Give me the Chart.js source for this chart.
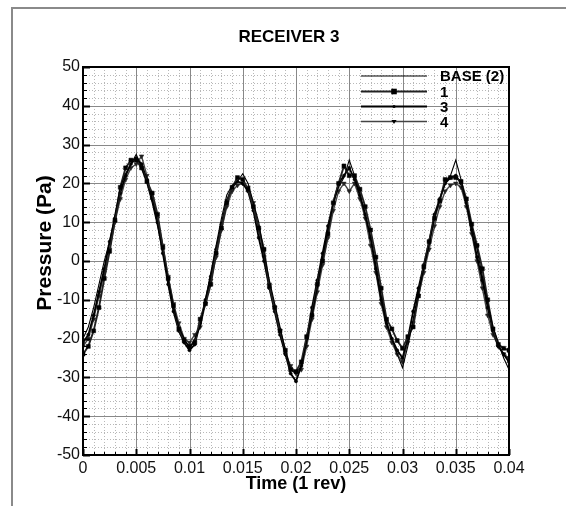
<!DOCTYPE html>
<html>
<head>
<meta charset="utf-8">
<script src="https://cdn.jsdelivr.net/npm/chart.js@4.4.1/dist/chart.umd.min.js"></script>
<style>
  html, body { margin: 0; padding: 0; background: #fff; }
  #wrap { position: relative; width: 566px; height: 506px; }
  #page { position: absolute; left: 11px; top: 7px; right: 0; bottom: 0; border-left: 2px solid #8a8a8a; border-top: 2px solid #8a8a8a; }
  #chart { position: absolute; left: 0; top: 0; }
</style>
</head>
<body>
<div id="wrap">
  <div id="page"></div>
  <canvas id="chart" width="566" height="506"></canvas>
</div>
<script>
// time samples (s), one every half millisecond
const times = [
  0, 0.0005, 0.001, 0.0015, 0.002, 0.0025, 0.003, 0.0035, 0.004, 0.0045,
  0.005, 0.0055, 0.006, 0.0065, 0.007, 0.0075, 0.008, 0.0085, 0.009, 0.0095,
  0.01, 0.0105, 0.011, 0.0115, 0.012, 0.0125, 0.013, 0.0135, 0.014, 0.0145,
  0.015, 0.0155, 0.016, 0.0165, 0.017, 0.0175, 0.018, 0.0185, 0.019, 0.0195,
  0.02, 0.0205, 0.021, 0.0215, 0.022, 0.0225, 0.023, 0.0235, 0.024, 0.0245,
  0.025, 0.0255, 0.026, 0.0265, 0.027, 0.0275, 0.028, 0.0285, 0.029, 0.0295,
  0.03, 0.0305, 0.031, 0.0315, 0.032, 0.0325, 0.033, 0.0335, 0.034, 0.0345,
  0.035, 0.0355, 0.036, 0.0365, 0.037, 0.0375, 0.038, 0.0385, 0.039, 0.0395,
  0.04
];

// pressure (Pa)
const base2 = [
  -20, -17, -12, -6, 0, 5, 12, 19, 22.5, 25,
  27.5, 24, 20, 15, 9, 2, -5, -12, -17, -20,
  -22.5, -20, -17, -10, -3, 4, 11, 17, 19.5, 20.5,
  22.5, 20, 15, 10, 2, -5, -11, -17, -23, -28,
  -29, -27, -21, -14, -7, 1, 8, 15, 19, 21.5,
  26, 22, 17, 12, 6, -1, -9, -16, -20, -24,
  -27.5, -22, -15, -8, -2, 4, 11, 16, 20, 22,
  26, 21, 15, 9, 3, -4, -11, -17, -21, -25,
  -28
];
const run1 = [
  -24, -22, -18, -12, -4.5, 2.5, 10.5, 19, 24, 26,
  26, 24, 20.5, 17.5, 12, 3.5, -4.5, -11.5, -17.5, -20.5,
  -22, -21, -15, -11, -6, 2, 8.5, 15, 19, 21.5,
  21, 18.5, 14, 8.5, 3, -6.5, -12, -18, -23, -28,
  -28.5, -26, -19.5, -14, -6, 0, 7, 15, 20, 24.5,
  22, 22, 18.5, 14, 8, 1, -7, -15, -17.5, -20.5,
  -22.5, -19.5, -17, -9, -1.5, 5, 11, 15.5, 21, 21.5,
  21.5, 20.5, 16, 9.5, 4, -2, -10, -17.5, -21.5, -22.5,
  -23
];
const run3 = [
  -21, -19, -14, -8, -2, 5, 11, 17.5, 22, 25,
  26.5, 25, 21, 16, 10, 2, -6, -13, -18, -21,
  -23, -21.5, -16, -10, -4, 3, 9.5, 15.5, 19, 20.5,
  20, 18, 13, 6, 0, -7, -13, -19, -24, -29,
  -31, -27, -20, -12, -5, 2, 9, 15, 20, 22,
  24, 21, 17, 12, 6, -2, -10, -16, -20, -23,
  -25, -20, -13, -7, -1, 5, 12, 16, 20, 21.5,
  22, 20, 15, 8, 1, -5, -12, -18, -22, -24,
  -26
];
const run4 = [
  -22, -20, -15, -9, -3, 3, 10, 16, 21, 24,
  25, 27, 22, 16, 11, 4, -4, -11, -16, -20,
  -21, -19, -17, -11, -5, 1, 8, 14, 18, 19.5,
  20, 19, 15, 8, 1, -6, -12, -18, -24, -27,
  -29, -28, -22, -15, -8, -1, 6, 13, 18, 20,
  18, 20, 16, 11, 4, -3, -11, -17, -21, -24,
  -26, -21, -16, -9, -3, 3, 9, 14, 18, 19.5,
  20, 19, 14, 7, 0, -7, -14, -19, -22, -24,
  -25
];

const seriesNames = ['BASE (2)', '1', '3', '4'];
const xTickStep = 0.005;
const yTickStep = 10;

const FONT = '"Liberation Sans", Arial, Helvetica, sans-serif';

function pts(values) {
  return values.map((v, i) => ({ x: times[i], y: v }));
}

const styles = [
  { color: '#000', width: 1.1, pointStyle: false, radius: 0 },
  { color: '#222', width: 1.9, pointStyle: 'rect', radius: 2.8 },
  { color: '#000', width: 1.8, pointStyle: 'circle', radius: 1.6 },
  { color: '#444', width: 1.4, pointStyle: 'triangle', radius: 2.6, rotation: 180 }
];

const seriesData = [base2, run1, run3, run4];

const datasets = seriesData.map((vals, i) => ({
  label: seriesNames[i],
  data: pts(vals),
  borderColor: styles[i].color,
  borderWidth: styles[i].width,
  backgroundColor: '#000',
  pointBackgroundColor: i === 3 ? '#222' : '#000',
  pointBorderColor: i === 3 ? '#222' : '#000',
  pointBorderWidth: 0.5,
  pointStyle: styles[i].pointStyle || 'circle',
  pointRadius: styles[i].radius,
  pointRotation: styles[i].rotation || 0,
  tension: 0,
  fill: false
}));

function drawMarker(ctx, st, x, y) {
  if (!st.pointStyle) return;
  const r = st.radius;
  ctx.fillStyle = '#000';
  ctx.beginPath();
  if (st.pointStyle === 'rect') {
    ctx.rect(x - r, y - r, r * 2, r * 2);
  } else if (st.pointStyle === 'circle') {
    ctx.arc(x, y, r, 0, Math.PI * 2);
  } else {
    ctx.moveTo(x - r, y - r * 0.6);
    ctx.lineTo(x + r, y - r * 0.6);
    ctx.lineTo(x, y + r);
    ctx.closePath();
  }
  ctx.fill();
}

// dotted minor / solid major grid, like graph paper
const gridPlugin = {
  id: 'paperGrid',
  beforeDatasetsDraw(chart) {
    const { ctx, chartArea: a, scales: { x, y } } = chart;
    ctx.save();
    ctx.lineWidth = 1;
    ctx.strokeStyle = '#b8b8b8';
    ctx.setLineDash([1, 2]);
    ctx.beginPath();
    for (let i = 1; i < 40; i++) {
      if (i % 5 === 0) continue;
      const px = Math.round(x.getPixelForValue(i / 1000)) + 0.5;
      ctx.moveTo(px, a.top); ctx.lineTo(px, a.bottom);
    }
    for (let v = -48; v < 50; v += 2) {
      if (v % 10 === 0) continue;
      const py = Math.round(y.getPixelForValue(v)) + 0.5;
      ctx.moveTo(a.left, py); ctx.lineTo(a.right, py);
    }
    ctx.stroke();
    ctx.setLineDash([]);
    ctx.strokeStyle = '#888';
    ctx.beginPath();
    for (let i = 1; i < 8; i++) {
      const px = Math.round(x.getPixelForValue(i * xTickStep)) + 0.5;
      ctx.moveTo(px, a.top); ctx.lineTo(px, a.bottom);
    }
    for (let v = -40; v < 50; v += yTickStep) {
      const py = Math.round(y.getPixelForValue(v)) + 0.5;
      ctx.moveTo(a.left, py); ctx.lineTo(a.right, py);
    }
    ctx.stroke();
    ctx.restore();
  },
  afterDatasetsDraw(chart) {
    const { ctx, chartArea: a, scales: { x, y } } = chart;
    ctx.save();
    ctx.strokeStyle = '#000';
    // inward tick marks
    for (let v = -50; v <= 50; v += 2) {
      const major = v % 10 === 0;
      const py = Math.round(y.getPixelForValue(v)) + 0.5;
      ctx.lineWidth = major ? 2 : 1;
      ctx.beginPath();
      ctx.moveTo(a.left, py); ctx.lineTo(a.left + (major ? 7 : 4), py);
      ctx.stroke();
    }
    for (let i = 0; i <= 40; i++) {
      const major = i % 5 === 0;
      const px = Math.round(x.getPixelForValue(i / 1000)) + 0.5;
      ctx.lineWidth = major ? 2 : 1;
      ctx.beginPath();
      ctx.moveTo(px, a.bottom); ctx.lineTo(px, a.bottom - (major ? 6 : 3));
      ctx.stroke();
    }
    ctx.lineWidth = 2;
    ctx.strokeRect(a.left, a.top, a.right - a.left, a.bottom - a.top);
    ctx.restore();
  },
  afterDraw(chart) {
    const { ctx, chartArea: a } = chart;
    ctx.save();
    // y axis title, sits a little above the middle
    ctx.fillStyle = '#000';
    ctx.font = 'bold 21px ' + FONT;
    ctx.textAlign = 'center';
    ctx.textBaseline = 'middle';
    ctx.translate(45, (a.top + a.bottom) / 2 - 18);
    ctx.rotate(-Math.PI / 2);
    ctx.fillText('Pressure (Pa)', 0, 0);
    ctx.restore();

    // legend in the top right corner
    ctx.save();
    const rows = [76, 91.5, 106.5, 121.5];
    ctx.font = 'bold 15px ' + FONT;
    ctx.textBaseline = 'middle';
    ctx.textAlign = 'left';
    seriesNames.forEach((name, i) => {
      const st = styles[i];
      const ry = rows[i];
      ctx.strokeStyle = st.color;
      ctx.lineWidth = st.width + (i ? 0.3 : 0);
      ctx.beginPath();
      ctx.moveTo(361, ry); ctx.lineTo(427, ry);
      ctx.stroke();
      drawMarker(ctx, st, 394, ry);
      ctx.fillStyle = '#000';
      ctx.fillText(name, 440, ry + 1);
    });
    ctx.restore();
  }
};

new Chart(document.getElementById('chart'), {
  type: 'line',
  data: { datasets },
  options: {
    responsive: false,
    animation: false,
    events: [],
    layout: { padding: { left: 12, top: 7, right: 0, bottom: 11 } },
    plugins: {
      legend: { display: false },
      tooltip: { enabled: false },
      title: {
        display: true,
        text: 'RECEIVER 3',
        color: '#000',
        font: { family: FONT, size: 17, weight: 'bold' },
        padding: { top: 20, bottom: 19.6 }
      }
    },
    scales: {
      x: {
        type: 'linear',
        min: 0,
        max: 0.04,
        grid: { display: false, drawTicks: false },
        border: { display: false },
        ticks: {
          stepSize: xTickStep,
          padding: 4,
          color: '#111',
          maxRotation: 0,
          font: { family: FONT, size: 16 },
          callback: (v) => String(Number(v.toFixed(3)))
        },
        title: {
          display: true,
          text: 'Time (1 rev)',
          color: '#000',
          font: { family: FONT, size: 18, weight: 'bold' },
          padding: { top: 0, bottom: 0 }
        },
        afterFit: (s) => { s.height = 40; }
      },
      y: {
        min: -50,
        max: 50,
        grid: { display: false, drawTicks: false },
        border: { display: false },
        ticks: {
          stepSize: yTickStep,
          padding: 3,
          color: '#111',
          font: { family: FONT, size: 16 }
        },
        afterFit: (s) => { s.width = 71; }
      },
      yRight: {
        type: 'linear',
        position: 'right',
        min: 0,
        max: 1,
        display: true,
        grid: { display: false, drawTicks: false },
        border: { display: false },
        ticks: { display: false },
        afterFit: (s) => { s.width = 57; }
      }
    }
  },
  plugins: [gridPlugin]
});
</script>
</body>
</html>
